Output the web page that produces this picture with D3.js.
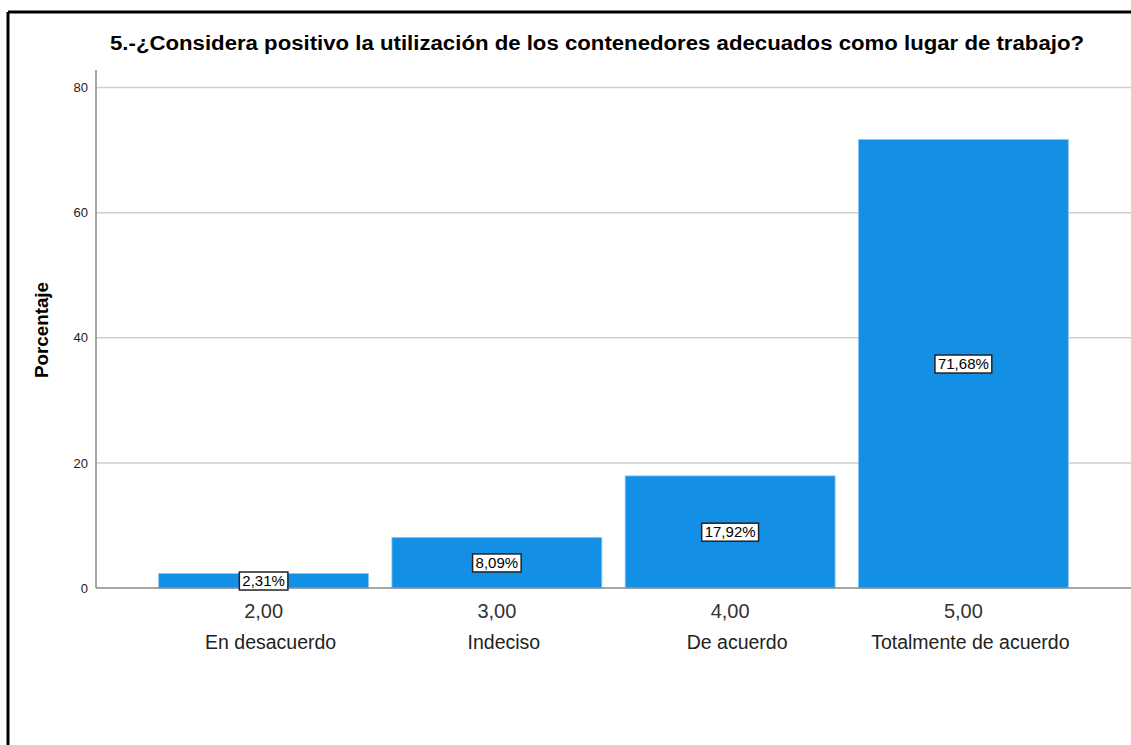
<!DOCTYPE html>
<html>
<head>
<meta charset="utf-8">
<script src="https://cdn.jsdelivr.net/npm/d3@7"></script>
<style>
  body { margin: 0; background: #fff; }
  svg { display: block; font-family: "Liberation Sans", Arial, sans-serif; }
</style>
</head>
<body>
<svg width="1131" height="745"></svg>
<script>
const codes = ["2,00", "3,00", "4,00", "5,00"];
const categories = ["En desacuerdo", "Indeciso", "De acuerdo", "Totalmente de acuerdo"];
const percents = [2.31, 8.09, 17.92, 71.68];
const percentLabels = ["2,31%", "8,09%", "17,92%", "71,68%"];
const yTicks = [0, 20, 40, 60, 80];

const svg = d3.select("svg");
const width = parseInt(svg.attr("width"));
const height = parseInt(svg.attr("height"));

// frame
svg.append("line")
  .attr("x1", 8).attr("x2", width).attr("y1", 12).attr("y2", 12)
  .attr("stroke", "#000").attr("stroke-width", 3);
svg.append("line")
  .attr("x1", 8).attr("x2", 8).attr("y1", 12).attr("y2", height)
  .attr("stroke", "#000").attr("stroke-width", 3);

const axisX = 96;
const y = d3.scaleLinear().domain([0, 80]).range([588, 87.5]);
const x = d3.scaleBand().domain(codes).range([147, 1080]).paddingInner(0.1).paddingOuter(0.05);

// gridlines
svg.append("g")
  .selectAll("line")
  .data(yTicks.filter(d => d > 0))
  .join("line")
  .attr("x1", axisX).attr("x2", width)
  .attr("y1", d => y(d)).attr("y2", d => y(d))
  .attr("stroke", "#cfcfcf").attr("stroke-width", 1.5);

// y axis
const yAxis = svg.append("g")
  .attr("transform", `translate(${axisX},0)`)
  .call(d3.axisLeft(y).tickValues(yTicks).tickSize(0).tickPadding(8));
yAxis.select(".domain").remove();
yAxis.selectAll("text").attr("font-size", 13).attr("fill", "#222")
  .attr("font-family", "Liberation Sans, Arial, sans-serif");
svg.append("line")
  .attr("x1", axisX).attr("x2", axisX).attr("y1", 70).attr("y2", 588)
  .attr("stroke", "#8a8a8a").attr("stroke-width", 1.5);

svg.append("text")
  .attr("transform", `translate(48, 330) rotate(-90)`)
  .attr("text-anchor", "middle")
  .attr("font-size", 18).attr("font-weight", "bold").attr("fill", "#000")
  .attr("textLength", 96).attr("lengthAdjust", "spacingAndGlyphs")
  .text("Porcentaje");

// bars
svg.append("g")
  .selectAll("rect")
  .data(percents)
  .join("rect")
  .attr("x", (d, i) => x(codes[i]))
  .attr("width", x.bandwidth())
  .attr("y", d => y(d))
  .attr("height", d => y(0) - y(d))
  .attr("fill", "#1390e6")
  .attr("stroke", "#8cc6f0").attr("stroke-width", 0.8);

// x axis line
svg.append("line")
  .attr("x1", axisX).attr("x2", width).attr("y1", 588).attr("y2", 588)
  .attr("stroke", "#8a8a8a").attr("stroke-width", 1.5);

// value labels
const lab = svg.append("g")
  .selectAll("g")
  .data(percents)
  .join("g")
  .attr("transform", (d, i) => `translate(${x(codes[i]) + x.bandwidth() / 2}, ${(y(d) + y(0)) / 2})`);
lab.append("text")
  .attr("text-anchor", "middle").attr("dy", "0.35em")
  .attr("font-size", 15).attr("fill", "#000")
  .text((d, i) => percentLabels[i])
  .each(function() {
    const b = this.getBBox();
    d3.select(this.parentNode).insert("rect", "text")
      .attr("x", b.x - 3).attr("y", b.y)
      .attr("width", b.width + 6).attr("height", b.height + 1)
      .attr("fill", "#fff").attr("stroke", "#222").attr("stroke-width", 1.5);
  });

// x tick labels
const xAxis = svg.append("g")
  .attr("transform", "translate(0,588)")
  .call(d3.axisBottom(x).tickSize(0).tickPadding(0));
xAxis.select(".domain").remove();
xAxis.selectAll("text").attr("font-size", 20).attr("fill", "#333")
  .attr("dy", null).attr("y", 29.5)
  .attr("font-family", "Liberation Sans, Arial, sans-serif");

svg.append("g")
  .selectAll("text")
  .data(categories)
  .join("text")
  .attr("x", (d, i) => x(codes[i]) + x.bandwidth() / 2 + 7)
  .attr("y", 649)
  .attr("text-anchor", "middle")
  .attr("font-size", 19.5).attr("fill", "#222")
  .text(d => d);

// title
svg.append("text")
  .attr("x", 110).attr("y", 50)
  .attr("font-size", 20).attr("font-weight", "bold").attr("fill", "#000")
  .attr("textLength", 974).attr("lengthAdjust", "spacingAndGlyphs")
  .text("5.-¿Considera positivo la utilización de los contenedores adecuados como lugar de trabajo?");
</script>
</body>
</html>
